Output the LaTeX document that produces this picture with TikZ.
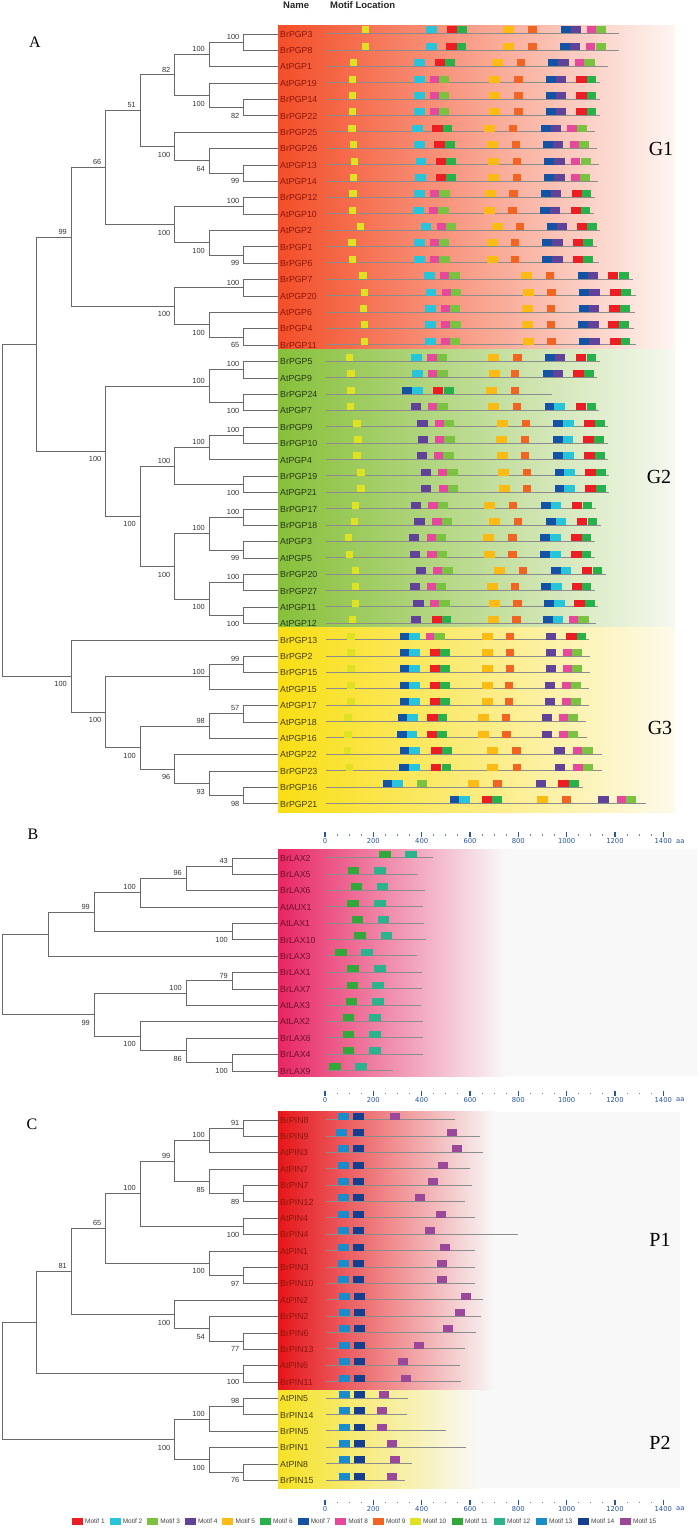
\documentclass[tikz,border=0pt]{standalone}
\usepackage{fontspec}
\setmainfont{Liberation Sans}
\newfontfamily\tnr{Liberation Serif}
\newfontfamily\dvs{DejaVu Sans}
\usetikzlibrary{calc}
\definecolor{mc1}{RGB}{236,30,36}
\definecolor{mc2}{RGB}{40,196,218}
\definecolor{mc3}{RGB}{124,194,66}
\definecolor{mc4}{RGB}{96,66,152}
\definecolor{mc5}{RGB}{252,186,20}
\definecolor{mc6}{RGB}{40,176,74}
\definecolor{mc7}{RGB}{20,82,164}
\definecolor{mc8}{RGB}{230,72,155}
\definecolor{mc9}{RGB}{242,100,34}
\definecolor{mc10}{RGB}{222,226,34}
\definecolor{mc11}{RGB}{50,168,58}
\definecolor{mc12}{RGB}{44,178,140}
\definecolor{mc13}{RGB}{26,140,204}
\definecolor{mc14}{RGB}{22,62,142}
\definecolor{mc15}{RGB}{156,72,154}
\definecolor{treec}{RGB}{105,105,105}
\definecolor{axc}{RGB}{40,85,155}
\definecolor{g1L}{RGB}{243,78,40}
\definecolor{g1R}{RGB}{254,245,242}
\definecolor{g2L}{RGB}{135,192,58}
\definecolor{g2R}{RGB}{245,248,240}
\definecolor{g3L}{RGB}{250,222,20}
\definecolor{g3R}{RGB}{253,250,234}
\definecolor{bL}{RGB}{232,38,100}
\definecolor{pgrey}{RGB}{248,248,249}
\definecolor{p1L}{RGB}{230,22,26}
\definecolor{p1M}{RGB}{246,130,95}
\definecolor{p2L}{RGB}{246,226,36}
\definecolor{g1t}{RGB}{140,22,12}
\definecolor{g2t}{RGB}{40,56,24}
\definecolor{g3t}{RGB}{72,62,12}
\definecolor{bt}{RGB}{110,16,46}
\expandafter\def\csname mw1\endcsname{10.5}
\expandafter\def\csname mw2\endcsname{10.5}
\expandafter\def\csname mw3\endcsname{10.3}
\expandafter\def\csname mw4\endcsname{10.3}
\expandafter\def\csname mw5\endcsname{11}
\expandafter\def\csname mw6\endcsname{9.5}
\expandafter\def\csname mw7\endcsname{10}
\expandafter\def\csname mw8\endcsname{9.2}
\expandafter\def\csname mw9\endcsname{8.2}
\expandafter\def\csname mw10\endcsname{7.3}
\expandafter\def\csname mw11\endcsname{11.5}
\expandafter\def\csname mw12\endcsname{11.5}
\expandafter\def\csname mw13\endcsname{10.5}
\expandafter\def\csname mw14\endcsname{10.5}
\expandafter\def\csname mw15\endcsname{10}
\def\lbu{(-5.5)}
\def\lbd{(8)}
\newcommand\mrowZ[4]{%
  \pgfmathsetmacro\yy{#1+16.38*#2}%
  \draw[mline] (326,\yy-0.5) -- ({270+#3/3},\yy-0.5);
  \foreach \m/\z in {#4}{\edef\w{\csname mw\m\endcsname}\fill[mc\m] ({270+\z/3},\yy-7.5) rectangle ++(\w,7);}}
\newcommand\mrowP[4]{%
  \pgfmathsetmacro\yy{#1+16.38*#2}%
  \draw[mline] (326,\yy-0.5) -- (#3,\yy-0.5);
  \foreach \m/\z in {#4}{\edef\w{\csname mw\m\endcsname}\fill[mc\m] (\z,\yy-7.5) rectangle ++(\w,7);}}
\newcommand\tnode[5]{\coordinate (#1) at (#2,#3);\node[bs] (#1L) at ({#2-4},{#3+#5}) {#4};}
\newcommand\nA[4]{\tnode{#1}{278-34.5*#2}{34+16.38*#3}{#4}}
\newcommand\nB[4]{\tnode{#1}{278-46*#2}{858+16.38*#3}{#4}}
\newcommand\nC[4]{\tnode{#1}{278-34.5*#2}{1120+16.38*#3}{#4}}
\newcommand\aaxis[2]{%
  \foreach \k/\v in {0/0,1/200,2/400,3/600,4/800,5/1000,6/1200,7/1400}{%
    \fill[axc] ({325+48.33*\k-0.7},#2-2.5) rectangle ++(1.4,5);
    \node[axl] (#1\k) at ({325+48.33*\k},#2+7) {\v};}
  \foreach \j in {1,2,3,5,6,7,9,10,11,13,14,15,17,18,19,21,22,23,25,26,27}{%
    \fill[axc!70] ({325+12.083*\j-0.5},#2-0.3) rectangle ++(1,1.3);}
  \node[axl,anchor=west] (#1aa) at (676,#2+7) {aa};}
\begin{document}
\begin{tikzpicture}[x=1pt,y=-1pt,
  br/.style={draw=treec,line width=0.9pt},
  mline/.style={draw=black!45,line width=0.7pt},
  leaf/.style={anchor=west,inner xsep=2pt,inner ysep=0pt,font=\fontsize{8.8}{9}\selectfont,text height=6.3pt,text depth=0pt},
  bs/.style={anchor=east,inner sep=0pt,font=\fontsize{7.4}{8}\selectfont,text=black!80,text height=5.3pt,text depth=0pt},
  axl/.style={inner sep=0pt,font=\dvs\fontsize{6.8}{7}\selectfont,text=axc},
  legl/.style={anchor=west,inner sep=0pt,font=\fontsize{6.5}{7}\selectfont,text=black!75},
  panl/.style={inner sep=0pt,font=\tnr\fontsize{16}{16}\selectfont},
  grl/.style={inner sep=0pt,font=\tnr\fontsize{20}{20}\selectfont},
  hdr/.style={anchor=west,inner sep=0pt,font=\bfseries\fontsize{9.5}{10}\selectfont,text=black!85}]
\useasboundingbox (0,0) rectangle (700,1533);
\fill[white] (0,0) rectangle (700,1533);
% ---------- bands
\shade[left color=g1L,right color=g1R] (278,26) rectangle (675,349.3);
\shade[left color=g2L,right color=g2R] (278,349.3) rectangle (675,627.7);
\shade[left color=g3L,right color=g3R] (278,627.7) rectangle (675,812.3);
\fill[pgrey] (278,849.3) rectangle (697,1076);
\shade[left color=bL,right color=pgrey] (278,849.3) rectangle (505,1076);
\fill[pgrey] (278,1111.7) rectangle (680,1488.3);
\shade[left color=p1L,middle color=p1M,right color=pgrey] (278,1111.7) rectangle (495,1390);
\shade[left color=p2L,right color=pgrey] (278,1390) rectangle (480,1488.3);
% ---------- header and panel letters
\node[hdr] (hname) at (283,5) {Name};
\node[hdr] (hmot) at (330,5) {Motif Location};
\node[panl] (pA) at (35,42) {A};
\node[panl] (pB) at (33,834) {B};
\node[panl] (pC) at (32,1124) {C};
\node[grl] (gG1) at (661,149) {G1};
\node[grl] (gG2) at (659,477) {G2};
\node[grl] (gG3) at (660,727.5) {G3};
\node[grl] (gP1) at (660,1240) {P1};
\node[grl] (gP2) at (660,1443) {P2};
% ---------- panel A leaves
\foreach \t [count=\i from 0] in {BrPGP3,BrPGP8,AtPGP1,AtPGP19,BrPGP14,BrPGP22,BrPGP25,BrPGP26,AtPGP13,AtPGP14,BrPGP12,AtPGP10,AtPGP2,BrPGP1,BrPGP6,BrPGP7,AtPGP20,AtPGP6,BrPGP4,BrPGP11}
  \node[leaf,text=g1t] (a\i) at (278,{34+16.38*\i}) {\t};
\foreach \t [count=\i from 20] in {BrPGP5,AtPGP9,BrPGP24,AtPGP7,BrPGP9,BrPGP10,AtPGP4,BrPGP19,AtPGP21,BrPGP17,BrPGP18,AtPGP3,AtPGP5,BrPGP20,BrPGP27,AtPGP11,AtPGP12}
  \node[leaf,text=g2t] (a\i) at (278,{34+16.38*\i}) {\t};
\foreach \t [count=\i from 37] in {BrPGP13,BrPGP2,BrPGP15,AtPGP15,AtPGP17,AtPGP18,AtPGP16,AtPGP22,BrPGP23,BrPGP16,BrPGP21}
  \node[leaf,text=g3t] (a\i) at (278,{34+16.38*\i}) {\t};
% ---------- panel A tree nodes
\nA{A1}{1}{0.5}{100}{\lbu}
\nA{A2}{2}{1.25}{100}{\lbu}
\nA{A3}{1}{4.5}{82}{\lbd}
\nA{A4}{2}{3.75}{100}{\lbd}
\nA{A5}{3}{2.5}{82}{\lbu}
\nA{A6}{1}{8.5}{99}{\lbd}
\nA{A7}{2}{7.75}{64}{\lbd}
\nA{A8}{3}{6.875}{100}{\lbd}
\nA{A9}{4}{4.6875}{51}{\lbu}
\nA{A10}{1}{10.5}{100}{\lbu}
\nA{A11}{1}{13.5}{99}{\lbd}
\nA{A12}{2}{12.75}{100}{\lbd}
\nA{A13}{3}{11.625}{100}{\lbd}
\nA{A14}{5}{8.15625}{66}{\lbu}
\nA{A15}{1}{15.5}{100}{\lbu}
\nA{A16}{1}{18.5}{65}{\lbd}
\nA{A17}{2}{17.75}{100}{\lbd}
\nA{A18}{3}{16.625}{100}{\lbd}
\nA{A19}{6}{12.390625}{99}{\lbu}
\nA{A20}{1}{20.5}{100}{\lbu}
\nA{A21}{1}{22.5}{100}{\lbd}
\nA{A22}{2}{21.5}{100}{\lbu}
\nA{A23}{1}{24.5}{100}{\lbu}
\nA{A24}{2}{25.25}{100}{\lbu}
\nA{A25}{1}{27.5}{100}{\lbd}
\nA{A26}{3}{26.375}{100}{\lbu}
\nA{A27}{1}{29.5}{100}{\lbu}
\nA{A28}{1}{31.5}{99}{\lbd}
\nA{A29}{2}{30.5}{100}{\lbu}
\nA{A30}{1}{33.5}{100}{\lbu}
\nA{A31}{1}{35.5}{100}{\lbd}
\nA{A32}{2}{34.5}{100}{\lbd}
\nA{A33}{3}{32.5}{100}{\lbd}
\nA{A34}{4}{29.4375}{100}{\lbd}
\nA{A35}{5}{25.46875}{100}{\lbd}
\coordinate (A36) at ({278-34.5*7},{34+16.38*18.9296875});
\nA{A37}{1}{38.5}{99}{\lbu}
\nA{A38}{2}{39.25}{100}{\lbu}
\nA{A39}{1}{41.5}{57}{\lbu}
\nA{A40}{2}{42.25}{98}{\lbu}
\nA{A41}{1}{46.5}{98}{\lbd}
\nA{A42}{2}{45.75}{93}{\lbd}
\nA{A43}{3}{44.875}{96}{\lbd}
\nA{A44}{4}{43.5625}{100}{\lbd}
\nA{A45}{5}{41.40625}{100}{\lbd}
\nA{A46}{6}{39.203125}{100}{\lbd}
\coordinate (A47) at ({278-34.5*8},{34+16.38*29.06640625});
\foreach \p/\c in {A1/a0.west,A1/a1.west,A2/A1,A2/a2.west,A3/a4.west,A3/a5.west,A4/a3.west,A4/A3,A5/A2,A5/A4,
 A6/a8.west,A6/a9.west,A7/a7.west,A7/A6,A8/a6.west,A8/A7,A9/A5,A9/A8,A10/a10.west,A10/a11.west,
 A11/a13.west,A11/a14.west,A12/a12.west,A12/A11,A13/A10,A13/A12,A14/A9,A14/A13,A15/a15.west,A15/a16.west,
 A16/a18.west,A16/a19.west,A17/a17.west,A17/A16,A18/A15,A18/A17,A19/A14,A19/A18,A20/a20.west,A20/a21.west,
 A21/a22.west,A21/a23.west,A22/A20,A22/A21,A23/a24.west,A23/a25.west,A24/A23,A24/a26.west,A25/a27.west,A25/a28.west,
 A26/A24,A26/A25,A27/a29.west,A27/a30.west,A28/a31.west,A28/a32.west,A29/A27,A29/A28,A30/a33.west,A30/a34.west,
 A31/a35.west,A31/a36.west,A32/A30,A32/A31,A33/A29,A33/A32,A34/A26,A34/A33,A35/A22,A35/A34,A36/A19,A36/A35,
 A37/a38.west,A37/a39.west,A38/A37,A38/a40.west,A39/a41.west,A39/a42.west,A40/A39,A40/a43.west,
 A41/a46.west,A41/a47.west,A42/a45.west,A42/A41,A43/a44.west,A43/A42,A44/A40,A44/A43,A45/A38,A45/A44,
 A46/a37.west,A46/A45,A47/A36,A47/A46}
  \draw[br] (\p) |- (\c);
% ---------- panel A motifs
\mrowZ{34}{0}{1048}{10/275,2/468,1/530,6/562,5/700,9/775,7/872,4/902,8/950,3/978}
\mrowZ{34}{1}{1048}{10/275,2/468,1/528,6/560,5/700,9/775,7/870,4/900,8/948,3/978}
\mrowZ{34}{2}{1013}{10/240,2/433,1/495,6/525,5/665,9/740,7/835,4/865,8/915,3/943}
\mrowZ{34}{3}{990}{10/237,2/432,8/480,3/507,5/657,9/733,7/827,4/857,1/918,6/950}
\mrowZ{34}{4}{990}{10/237,2/432,8/480,3/507,5/657,9/733,7/827,4/857,1/918,6/950}
\mrowZ{34}{5}{990}{10/237,2/432,8/480,3/507,5/657,9/733,7/827,4/857,1/918,6/950}
\mrowZ{34}{6}{975}{10/235,2/426,1/487,6/518,5/643,9/717,7/812,4/842,8/892,3/920}
\mrowZ{34}{7}{982}{10/240,2/432,1/493,6/525,5/650,9/725,7/819,4/849,8/899,3/927}
\mrowZ{34}{8}{987}{10/243,2/437,1/497,6/528,5/655,9/728,7/823,4/853,8/902,3/932}
\mrowZ{34}{9}{985}{10/240,2/435,1/497,6/528,5/655,9/728,7/823,4/853,8/902,3/930}
\mrowZ{34}{10}{975}{10/238,2/432,8/480,3/508,5/645,9/718,7/813,4/843,1/905,6/935}
\mrowZ{34}{11}{972}{10/237,2/430,8/478,3/505,5/642,9/715,7/810,4/840,1/902,6/932}
\mrowZ{34}{12}{990}{10/260,2/452,8/500,3/527,5/665,9/738,7/832,4/860,1/920,6/952}
\mrowZ{34}{13}{980}{10/235,2/432,8/480,3/507,5/650,9/723,7/817,4/847,1/908,6/940}
\mrowZ{34}{14}{987}{10/237,2/432,8/480,3/508,5/650,9/723,7/817,4/847,1/908,6/940}
\mrowZ{34}{15}{1090}{10/268,2/463,8/510,3/538,5/753,9/827,7/923,4/953,1/1013,6/1047}
\mrowZ{34}{16}{1097}{10/272,2/467,8/515,3/543,5/758,9/832,7/928,4/958,1/1020,6/1053}
\mrowZ{34}{17}{1095}{10/270,2/465,8/513,3/540,5/757,9/830,7/927,4/957,1/1018,6/1050}
\mrowZ{34}{18}{1092}{10/273,2/465,8/513,3/541,5/755,9/830,7/925,4/955,1/1015,6/1048}
\mrowZ{34}{19}{1097}{10/272,2/465,8/513,3/540,5/758,9/832,7/928,4/958,1/1020,6/1052}
\mrowZ{34}{20}{990}{10/228,2/423,8/472,3/500,5/655,9/730,7/825,4/855,1/917,6/950}
\mrowZ{34}{21}{980}{10/232,2/427,8/475,3/502,5/658,9/722,7/818,4/848,1/910,6/942}
\mrowZ{34}{22}{845}{10/232,7/397,2/427,1/488,6/522,5/648,9/722}
\mrowZ{34}{23}{988}{10/230,4/422,8/473,3/502,5/655,9/728,7/825,2/853,1/917,6/950}
\mrowZ{34}{24}{1013}{10/250,4/442,8/495,3/522,5/680,9/755,7/850,2/880,1/942,6/975}
\mrowZ{34}{25}{1013}{10/253,4/443,8/495,3/523,5/678,9/752,7/848,2/878,1/940,6/973}
\mrowZ{34}{26}{1013}{10/250,4/440,8/493,3/520,5/680,9/752,7/850,2/880,1/942,6/975}
\mrowZ{34}{27}{1018}{10/262,4/452,8/505,3/532,5/685,9/758,7/855,2/883,1/945,6/978}
\mrowZ{34}{28}{1018}{10/262,4/453,8/507,3/533,5/686,9/758,7/855,2/883,1/945,6/978}
\mrowZ{34}{29}{978}{10/245,4/422,8/475,3/503,5/643,9/717,7/813,2/842,1/905,6/938}
\mrowZ{34}{30}{993}{10/243,4/433,8/487,3/515,5/658,9/732,7/828,2/857,1/920,6/953}
\mrowZ{34}{31}{975}{10/225,4/417,8/470,3/497,5/640,9/715,7/810,2/840,1/903,6/935}
\mrowZ{34}{32}{975}{10/228,4/420,8/472,3/500,5/642,9/715,7/810,2/840,1/903,6/935}
\mrowZ{34}{33}{1008}{10/245,4/437,8/488,3/517,5/672,9/747,7/842,2/872,1/935,6/968}
\mrowZ{34}{34}{975}{10/245,4/420,8/470,3/498,5/650,9/722,7/813,2/843,1/905,6/935}
\mrowZ{34}{35}{983}{10/245,4/430,8/481,3/508,5/658,9/730,7/822,2/852,1/912,6/945}
\mrowZ{34}{36}{978}{10/237,4/423,1/485,6/515,5/655,9/727,7/818,2/848,8/898,3/925}
\mrowZ{34}{37}{958}{10/232,7/390,2/418,8/467,3/493,5/637,9/708,4/827,1/888,6/920}
\mrowZ{34}{38}{960}{10/232,7/390,2/418,1/480,6/510,5/637,9/708,4/828,8/880,3/905}
\mrowZ{34}{39}{960}{10/232,7/390,2/418,1/480,6/510,5/637,9/708,4/828,8/880,3/905}
\mrowZ{34}{40}{958}{10/232,7/390,2/418,1/480,6/510,5/635,9/705,4/825,8/877,3/903}
\mrowZ{34}{41}{958}{10/232,7/390,2/418,1/480,6/510,5/635,9/705,4/825,8/877,3/903}
\mrowZ{34}{42}{948}{10/223,7/383,2/411,1/472,6/503,5/625,9/695,4/815,8/867,3/893}
\mrowZ{34}{43}{950}{10/223,7/382,2/410,1/470,6/502,5/625,9/697,4/815,8/867,3/893}
\mrowZ{34}{44}{995}{10/222,7/390,2/418,1/483,6/517,5/650,9/727,4/853,8/908,3/937}
\mrowZ{34}{45}{997}{10/227,7/388,2/418,1/482,6/515,5/652,9/728,4/855,8/910,3/938}
\mrowZ{34}{46}{940}{7/340,2/367,3/440,5/595,9/670,4/798,1/865,6/898}
\mrowZ{34}{47}{1128}{7/540,2/568,1/635,6/667,5/802,9/877,4/985,8/1040,3/1068}
% ---------- axes
\aaxis{axA}{834.5}
\aaxis{axB}{1093}
\aaxis{axC}{1502}
% ---------- panel B
\foreach \t [count=\i from 0] in {BrLAX2,BrLAX5,BrLAX6,AtAUX1,AtLAX1,BrLAX10,BrLAX3,BrLAX1,BrLAX7,AtLAX3,AtLAX2,BrLAX8,BrLAX4,BrLAX9}
  \node[leaf,text=bt] (b\i) at (278,{858+16.38*\i}) {\t};
\nB{B1}{1}{0.5}{43}{\lbu}
\nB{B2}{2}{1.25}{96}{\lbu}
\nB{B3}{3}{2.125}{100}{\lbu}
\nB{B4}{1}{4.5}{100}{\lbd}
\nB{B5}{4}{3.3125}{99}{\lbu}
\coordinate (B6) at ({278-46*5},{858+16.38*4.65625});
\nB{B7}{1}{7.5}{79}{\lbu}
\nB{B8}{2}{8.25}{100}{\lbu}
\nB{B9}{1}{12.5}{100}{\lbd}
\nB{B10}{2}{11.75}{86}{\lbd}
\nB{B11}{3}{10.875}{100}{\lbd}
\nB{B12}{4}{9.5625}{99}{\lbd}
\coordinate (B13) at ({278-46*6},{858+16.38*7.109375});
\foreach \p/\c in {B1/b0.west,B1/b1.west,B2/B1,B2/b2.west,B3/B2,B3/b3.west,B4/b4.west,B4/b5.west,B5/B3,B5/B4,
 B6/B5,B6/b6.west,B7/b7.west,B7/b8.west,B8/B7,B8/b9.west,B9/b12.west,B9/b13.west,B10/b11.west,B10/B9,
 B11/b10.west,B11/B10,B12/B8,B12/B11,B13/B6,B13/B12}
  \draw[br] (\p) |- (\c);
\mrowZ{858}{0}{490}{11/328,12/405}
\mrowZ{858}{1}{443}{11/233,12/312}
\mrowZ{858}{2}{465}{11/242,12/320}
\mrowZ{858}{3}{460}{11/232,12/312}
\mrowZ{858}{4}{463}{11/245,12/323}
\mrowZ{858}{5}{468}{11/253,12/332}
\mrowZ{858}{6}{442}{11/195,12/273}
\mrowZ{858}{7}{457}{11/232,12/312}
\mrowZ{858}{8}{455}{11/230,12/307}
\mrowZ{858}{9}{453}{11/227,12/307}
\mrowZ{858}{10}{460}{11/218,12/297}
\mrowZ{858}{11}{460}{11/218,12/297}
\mrowZ{858}{12}{460}{11/218,12/297}
\mrowZ{858}{13}{368}{11/178,12/256}
% ---------- panel C
\foreach \t [count=\i from 0] in {BrPIN8,BrPIN9,AtPIN3,AtPIN7,BrPIN7,BrPIN12,AtPIN4,BrPIN4,AtPIN1,BrPIN3,BrPIN10,AtPIN2,BrPIN2,BrPIN6,BrPIN13,AtPIN6,BrPIN11}
  \node[leaf,text=g1t] (c\i) at (278,{1120+16.38*\i}) {\t};
\foreach \t [count=\i from 17] in {AtPIN5,BrPIN14,BrPIN5,BrPIN1,AtPIN8,BrPIN15}
  \node[leaf,text=g3t] (c\i) at (278,{1120+16.38*\i}) {\t};
\nC{C1}{1}{0.5}{91}{\lbu}
\nC{C2}{2}{1.25}{100}{\lbu}
\nC{C3}{1}{4.5}{89}{\lbd}
\nC{C4}{2}{3.75}{85}{\lbd}
\nC{C5}{3}{2.5}{99}{\lbu}
\nC{C6}{1}{6.5}{100}{\lbd}
\nC{C7}{4}{4.5}{100}{\lbu}
\nC{C8}{1}{9.5}{97}{\lbd}
\nC{C9}{2}{8.75}{100}{\lbd}
\nC{C10}{5}{6.625}{65}{\lbu}
\nC{C11}{1}{13.5}{77}{\lbd}
\nC{C12}{2}{12.75}{54}{\lbd}
\nC{C13}{3}{11.875}{100}{\lbd}
\nC{C14}{6}{9.25}{81}{\lbu}
\nC{C15}{1}{15.5}{100}{\lbd}
\coordinate (C16) at ({278-34.5*7},{1120+16.38*12.375});
\nC{C17}{1}{17.5}{98}{\lbu}
\nC{C18}{2}{18.25}{100}{\lbu}
\nC{C19}{1}{21.5}{76}{\lbd}
\nC{C20}{2}{20.75}{100}{\lbd}
\nC{C21}{3}{19.5}{100}{\lbd}
\coordinate (C22) at ({278-34.5*8},{1120+16.38*15.9375});
\foreach \p/\c in {C1/c0.west,C1/c1.west,C2/C1,C2/c2.west,C3/c4.west,C3/c5.west,C4/c3.west,C4/C3,C5/C2,C5/C4,
 C6/c6.west,C6/c7.west,C7/C5,C7/C6,C8/c9.west,C8/c10.west,C9/c8.west,C9/C8,C10/C7,C10/C9,
 C11/c13.west,C11/c14.west,C12/c12.west,C12/C11,C13/c11.west,C13/C12,C14/C10,C14/C13,C15/c15.west,C15/c16.west,
 C16/C14,C16/C15,C17/c17.west,C17/c18.west,C18/C17,C18/c19.west,C19/c21.west,C19/c22.west,C20/c20.west,C20/C19,
 C21/C18,C21/C20,C22/C16,C22/C21}
  \draw[br] (\p) |- (\c);
\mrowP{1120}{0}{455}{13/338,14/353,15/390}
\mrowP{1120}{1}{480}{13/336,14/353,15/447}
\mrowP{1120}{2}{483}{13/338,14/353,15/452}
\mrowP{1120}{3}{470}{13/338,14/353,15/438}
\mrowP{1120}{4}{472}{13/338,14/353,15/428}
\mrowP{1120}{5}{465}{13/338,14/353,15/415}
\mrowP{1120}{6}{475}{13/338,14/353,15/436}
\mrowP{1120}{7}{518}{13/338,14/353,15/425}
\mrowP{1120}{8}{475}{13/338,14/353,15/440}
\mrowP{1120}{9}{475}{13/338,14/353,15/437}
\mrowP{1120}{10}{475}{13/338,14/353,15/437}
\mrowP{1120}{11}{483}{13/339,14/354,15/461}
\mrowP{1120}{12}{481}{13/339,14/354,15/455}
\mrowP{1120}{13}{476}{13/339,14/354,15/443}
\mrowP{1120}{14}{465}{13/339,14/354,15/414}
\mrowP{1120}{15}{460}{13/339,14/354,15/398}
\mrowP{1120}{16}{461}{13/339,14/354,15/401}
\mrowP{1120}{17}{408}{13/339,14/354,15/379}
\mrowP{1120}{18}{407}{13/339,14/354,15/377}
\mrowP{1120}{19}{446}{13/339,14/354,15/377}
\mrowP{1120}{20}{466}{13/339,14/354,15/387}
\mrowP{1120}{21}{412}{13/339,14/354,15/390}
\mrowP{1120}{22}{405}{13/339,14/354,15/387}
% ---------- legend
\foreach \k/\x in {1/72,2/109.6,3/147.2,4/184.8,5/222.4,6/260,7/297.6,8/335.2,9/372.8,10/410,11/452,12/494,13/536,14/578,15/620}{
  \fill[mc\k] (\x,1518) rectangle ++(11,6.5);
  \node[legl] (lg\k) at (\x+13,1521.25) {Motif \k};}
\end{tikzpicture}
\end{document}
